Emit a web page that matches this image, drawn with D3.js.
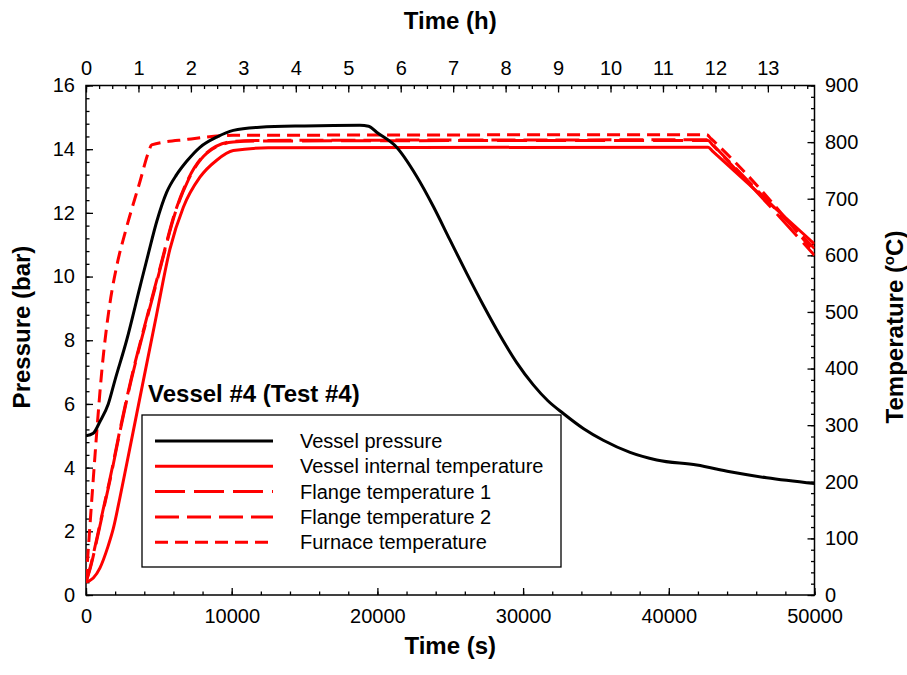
<!DOCTYPE html>
<html>
<head>
<meta charset="utf-8">
<script src="https://cdn.jsdelivr.net/npm/d3@7"></script>
<style>
  body { margin: 0; background: #fff; }
  svg { display: block; }
  text { font-family: "Liberation Sans", Arial, sans-serif; fill: #000; }
  .tick text { font-size: 20px; }
  .axis path.domain { display: none; }
  .axis line { stroke: #000; stroke-width: 1.3; }
  .axis_label { font-size: 24px; font-weight: bold; text-anchor: middle; }
</style>
</head>
<body>
<svg id="chart"></svg>
<script>
let width = 907;
let height = 675;

// vessel pressure (bar)
let timeP = [0, 500, 960, 1530, 1990, 2790, 3700, 4280, 4850, 5540, 6220, 6910, 7820, 8970, 10110, 11940, 15000, 18800,
    19400, 19950, 21320, 22690, 23840, 24980, 26130, 27270, 28420, 29560, 30700, 31700, 32760, 34130, 35500, 37340,
    39170, 41920, 44200, 46720, 50000];
let pressure = [5.0, 5.08, 5.45, 6.0, 6.75, 8.0, 9.67, 10.72, 11.72, 12.65, 13.2, 13.62, 14.06, 14.38, 14.59, 14.69,
    14.73, 14.75, 14.72, 14.53, 14.06, 13.15, 12.2, 11.15, 10.1, 9.1, 8.15, 7.3, 6.6, 6.1, 5.70, 5.23, 4.86, 4.48, 4.24,
    4.08, 3.87, 3.68, 3.5];

// vessel internal temperature (C)
let timeTi = [0, 500, 960, 1500, 1880, 2320, 2790, 3480, 3930, 4850, 5760, 6680, 7820, 8970, 10110, 12500, 42700,
    43000, 50000];
let tempInternal = [23, 30, 48, 85, 118, 171, 231, 320, 378, 496, 611, 685, 738, 768, 785, 790, 791, 784, 620];

// flange temperatures (C)
let timeTf = [0, 300, 700, 1150, 1650, 2300, 3100, 4100, 5080, 6110, 7000, 8280, 10100, 12000, 42700, 43000, 50000];
let tempFlange1 = [23, 48, 92, 145, 203, 285, 379, 480, 575, 674, 732, 780, 800, 802, 803, 795, 600];
let tempFlange2 = [23, 50, 95, 148, 206, 288, 382, 483, 578, 676, 734, 781, 801, 803, 804, 796, 612];

// furnace temperature (C)
let timeTfu = [0, 250, 500, 850, 1100, 1400, 1700, 2100, 2790, 3700, 4300, 4500, 7000, 10100, 42600, 42900, 50000];
let tempFurnace = [23, 115, 205, 325, 400, 470, 525, 580, 650, 730, 783, 795, 805, 812, 813, 806, 605];

let legendNames = ['Vessel pressure', 'Vessel internal temperature', 'Flange temperature 1',
    'Flange temperature 2', 'Furnace temperature'];

let x_ticks = [0, 10000, 20000, 30000, 40000, 50000];
let h_ticks = [0, 1, 2, 3, 4, 5, 6, 7, 8, 9, 10, 11, 12, 13];
let p_ticks = [0, 2, 4, 6, 8, 10, 12, 14, 16];
let t_ticks = [0, 100, 200, 300, 400, 500, 600, 700, 800, 900];

function draw_main() {
    let padding = { left: 86, right: 92.5, top: 85.5, bottom: 80 };
    let svg = d3.select('#chart').attr('width', width).attr('height', height);

    let x = d3.scaleLinear().domain([0, 50000]).range([padding.left, width - padding.right]);
    let xh = d3.scaleLinear().domain([0, 50000 / 3600]).range([padding.left, width - padding.right]);
    let y = d3.scaleLinear().domain([0, 16]).range([height - padding.bottom, padding.top]);
    let yT = d3.scaleLinear().domain([0, 900]).range([height - padding.bottom, padding.top]);

    let bottom = height - padding.bottom;
    let right = width - padding.right;

    // minor ticks
    svg.append('g').attr('class', 'axis').attr('transform', `translate(0,${bottom})`)
        .call(d3.axisBottom(x).tickValues(d3.range(0, 50001, 2000)).tickSize(-3.5).tickFormat(''));
    svg.append('g').attr('class', 'axis').attr('transform', `translate(0,${padding.top})`)
        .call(d3.axisTop(xh).tickValues(d3.range(0, 13.9, 0.25)).tickSize(-3.5).tickFormat(''));
    svg.append('g').attr('class', 'axis').attr('transform', `translate(${padding.left},0)`)
        .call(d3.axisLeft(y).tickValues(d3.range(0, 16.01, 0.4)).tickSize(-3.5).tickFormat(''));
    svg.append('g').attr('class', 'axis').attr('transform', `translate(${right},0)`)
        .call(d3.axisRight(yT).tickValues(d3.range(0, 901, 20)).tickSize(-3.5).tickFormat(''));

    // major ticks + labels
    svg.append('g').attr('class', 'axis').attr('transform', `translate(0,${bottom})`)
        .call(d3.axisBottom(x).tickValues(x_ticks).tickFormat(d3.format('d'))
            .tickSizeInner(-7).tickSizeOuter(0).tickPadding(14));
    svg.append('g').attr('class', 'axis').attr('transform', `translate(0,${padding.top})`)
        .call(d3.axisTop(xh).tickValues(h_ticks).tickSizeInner(-7).tickSizeOuter(0).tickPadding(10.5));
    svg.append('g').attr('class', 'axis').attr('transform', `translate(${padding.left},0)`)
        .call(d3.axisLeft(y).tickValues(p_ticks).tickSizeInner(-7).tickSizeOuter(0).tickPadding(11));
    svg.append('g').attr('class', 'axis').attr('transform', `translate(${right},0)`)
        .call(d3.axisRight(yT).tickValues(t_ticks).tickSizeInner(-7).tickSizeOuter(0).tickPadding(10.5));

    // frame
    svg.append('rect')
        .attr('x', padding.left).attr('y', padding.top)
        .attr('width', right - padding.left).attr('height', bottom - padding.top)
        .attr('fill', 'none').attr('stroke', '#000').attr('stroke-width', 1.5);

    // clip
    svg.append('clipPath').attr('id', 'clip').append('rect')
        .attr('x', padding.left).attr('y', padding.top)
        .attr('width', right - padding.left).attr('height', bottom - padding.top);
    let plot = svg.append('g').attr('clip-path', 'url(#clip)');

    let series = [
        { t: timeTi, v: tempInternal, sc: yT, color: 'red', dash: null },
        { t: timeTf, v: tempFlange1, sc: yT, color: 'red', dash: '30,9' },
        { t: timeTf, v: tempFlange2, sc: yT, color: 'red', dash: '24,8' },
        { t: timeTfu, v: tempFurnace, sc: yT, color: 'red', dash: '13,7' },
        { t: timeP, v: pressure, sc: y, color: 'black', dash: null }
    ];
    series.forEach(s => {
        let pts = s.t.map((d, i) => [d, s.v[i]]);
        let line = d3.line()
            .x(d => x(d[0]))
            .y(d => s.sc(d[1]))
            .curve(d3.curveMonotoneX);
        plot.append('path')
            .attr('d', line(pts))
            .attr('fill', 'none')
            .attr('stroke', s.color)
            .attr('stroke-width', 3)
            .attr('stroke-dasharray', s.dash);
    });

    // axis titles
    svg.append('text').attr('class', 'axis_label')
        .attr('x', (padding.left + right) / 2).attr('y', 654).text('Time (s)');
    svg.append('text').attr('class', 'axis_label')
        .attr('x', (padding.left + right) / 2).attr('y', 29).text('Time (h)');
    svg.append('text').attr('class', 'axis_label')
        .attr('transform', 'translate(30,327) rotate(-90)').text('Pressure (bar)');
    let tl = svg.append('text').attr('class', 'axis_label')
        .attr('transform', 'translate(903,327) rotate(-90)');
    tl.append('tspan').text('Temperature (');
    tl.append('tspan').text('o').attr('font-size', '15px').attr('dy', -9);
    tl.append('tspan').text('C)').attr('dy', 9);

    // legend
    svg.append('text')
        .attr('x', 148).attr('y', 402)
        .attr('font-size', '24px').attr('font-weight', 'bold')
        .text('Vessel #4 (Test #4)');
    svg.append('rect')
        .attr('x', 142).attr('y', 415).attr('width', 419).attr('height', 152)
        .attr('fill', '#fff').attr('stroke', '#000').attr('stroke-width', 1.3);
    let legStyle = [['black', null], ['red', null], ['red', '30,9'], ['red', '24,8'], ['red', '13,7']];
    let legend = svg.selectAll('.legend')
        .data(legendNames)
        .enter().append('g')
        .attr('class', 'legend')
        .attr('transform', (d, i) => `translate(0,${441 + i * 25.3})`);
    legend.append('line')
        .attr('x1', 155).attr('x2', 273)
        .attr('stroke', (d, i) => legStyle[i][0])
        .attr('stroke-width', 3)
        .attr('stroke-dasharray', (d, i) => legStyle[i][1]);
    legend.append('text')
        .attr('x', 300).attr('y', 7)
        .attr('font-size', '20px')
        .text(d => d);
}

draw_main();
</script>
</body>
</html>
